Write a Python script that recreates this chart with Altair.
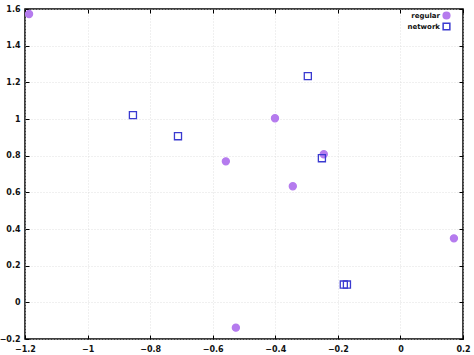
import altair as alt
import pandas as pd

reg_x = [-1.187, -0.401, -0.558, -0.245, -0.344, 0.171, -0.526]
reg_y = [1.573, 1.004, 0.769, 0.808, 0.633, 0.349, -0.138]
net_x = [-0.855, -0.711, -0.296, -0.251, -0.181, -0.171]
net_y = [1.021, 0.906, 1.234, 0.786, 0.097, 0.097]
series = ["regular", "network"]
x_ticks = [-1.2, -1.0, -0.8, -0.6, -0.4, -0.2, 0.0, 0.2]
y_ticks = [-0.2, 0.0, 0.2, 0.4, 0.6, 0.8, 1.0, 1.2, 1.4, 1.6]

df = pd.DataFrame({
    "x": reg_x + net_x,
    "y": reg_y + net_y,
    "s": [series[0]] * len(reg_x) + [series[1]] * len(net_x),
})

FONT = "DejaVu Sans"
xs = alt.Scale(domain=[-1.2, 0.2], nice=False, zero=False)
ys = alt.Scale(domain=[-0.2, 1.6], nice=False, zero=False)
lab_expr = "datum.value == 0 ? '0' : format(datum.value, '.1~f')"

main = alt.Chart(df).mark_point(size=50, strokeWidth=1.3, opacity=1).encode(
    x=alt.X("x:Q", scale=xs, axis=alt.Axis(values=x_ticks, labelExpr=lab_expr, title=None,
            grid=True, gridColor="#d8d8d8", gridDash=[1, 2], gridWidth=0.8,
            ticks=False, domain=False, labelPadding=6, labelFont=FONT, labelFontSize=8,
            labelFontWeight=600, labelColor="#111", labelFlush=False)),
    y=alt.Y("y:Q", scale=ys, axis=alt.Axis(values=y_ticks, labelExpr=lab_expr, title=None,
            grid=True, gridColor="#d8d8d8", gridDash=[1, 2], gridWidth=0.8,
            ticks=False, domain=False, labelPadding=5, labelFont=FONT, labelFontSize=8,
            labelFontWeight=600, labelColor="#111", labelFlush=False)),
    shape=alt.Shape("s:N", scale=alt.Scale(domain=series, range=["circle", "square"]),
                    legend=alt.Legend(title=None, orient="none", legendX=417, legendY=2,
                                      labelAlign="right", labelOffset={"expr": "-11"}, labelFont=FONT,
                                      labelFontSize=7, labelFontWeight=600,
                                      rowPadding={"expr": "-7"},
                                      symbolSize=45, labelColor="#111")),
    stroke=alt.Stroke("s:N", scale=alt.Scale(domain=series, range=["#b57bee", "#3a3ad0"]), legend=None),
    fill=alt.Fill("s:N", scale=alt.Scale(domain=series, range=["#b57bee", "transparent"]), legend=None),
)

def tick_layer(xo, yo):
    return alt.Chart(df).mark_point(opacity=0).encode(
        x=alt.X("x:Q", scale=xs, axis=alt.Axis(orient=xo, values=x_ticks, labels=False, title=None,
                grid=False, domain=False, ticks=True, tickSize=4, tickColor="#000",
                tickWidth=1, offset=-4)),
        y=alt.Y("y:Q", scale=ys, axis=alt.Axis(orient=yo, values=y_ticks, labels=False, title=None,
                grid=False, domain=False, ticks=True, tickSize=4, tickColor="#000",
                tickWidth=1, offset=-4)),
    )

chart = alt.layer(main, tick_layer("bottom", "left"), tick_layer("top", "right")).resolve_axis(
    x="independent", y="independent"
).properties(
    width=438, height=330,
    autosize=alt.AutoSizeParams(type="none"),
    padding={"left": 25, "top": 9, "right": 11, "bottom": 16},
).configure_view(stroke="#000", strokeWidth=1.5)

chart.save("out.html", embed_options={"renderer": "svg", "actions": False})
